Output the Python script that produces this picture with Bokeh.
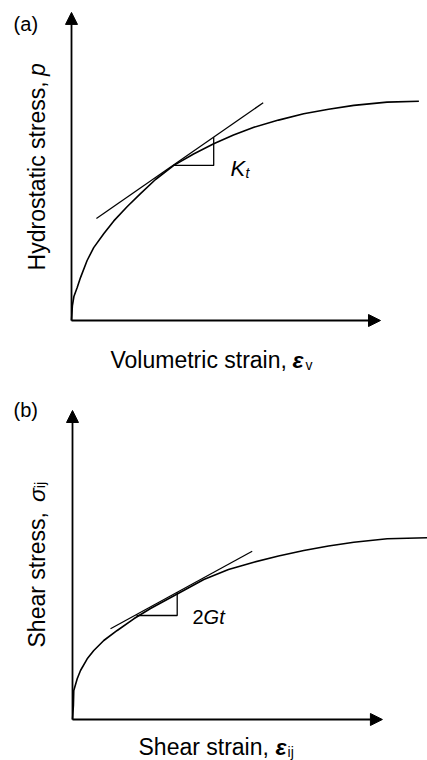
import math

from bokeh.plotting import figure
from bokeh.layouts import column
from bokeh.models import Arrow, NormalHead, Label
from bokeh.embed import file_html
from bokeh.resources import INLINE

# ---------------- data (arbitrary units) ----------------
# (a) hydrostatic stress vs volumetric strain
vol_strain = [0, 0.03, 0.08, 0.19, 0.3, 0.52, 0.74, 1.08, 1.41, 1.86, 2.3, 2.8,
              3.41, 4.07, 4.74, 5.4, 6.08, 6.9, 7.74, 8.57, 9.41, 10.52, 11.58]
hyd_stress = [0, 0.5, 0.8, 1.1, 1.43, 2.0, 2.43, 2.9, 3.32, 3.8, 4.23, 4.7,
              5.17, 5.55, 5.89, 6.18, 6.44, 6.68, 6.89, 7.04, 7.17, 7.28, 7.31]
tangent_a_x = [0.83, 6.39]
tangent_a_y = [3.40, 7.26]
triangle_a_x = [3.41, 4.74, 4.74]
triangle_a_y = [5.17, 5.17, 6.11]

# (b) shear stress vs shear strain
shear_strain = [0, 0.03, 0.043, 0.157, 0.267, 0.49, 0.71, 1.043, 1.49, 2.043, 2.6,
                3.49, 4.377, 5.2, 6.043, 6.867, 7.71, 8.533, 9.377, 10.49, 11.82]
shear_stress = [0, 0.467, 0.967, 1.357, 1.633, 2.023, 2.3, 2.633, 2.967, 3.357, 3.7,
                4.183, 4.667, 5.0, 5.243, 5.45, 5.633, 5.783, 5.91, 6.023, 6.057]
tangent_b_x = [1.267, 5.99]
tangent_b_y = [3.023, 5.61]
triangle_b_x = [2.133, 3.49, 3.49]
triangle_b_y = [3.467, 3.467, 4.24]

FONT = "Liberation Sans"
ROT = math.pi / 2


def make_fig(xr, yr):
    p = figure(width=427, height=380, x_range=xr, y_range=yr,
               x_axis_type=None, y_axis_type=None, title=None,
               output_backend="svg", toolbar_location=None, min_border=0)
    p.outline_line_color = None
    p.background_fill_color = "white"
    p.border_fill_color = "white"
    return p


def add_axes(p, xlen, ylen):
    for xe, ye in ((0, ylen), (xlen, 0)):
        p.add_layout(Arrow(x_start=0, y_start=0, x_end=xe, y_end=ye,
                           line_width=1.8, line_color="black",
                           end=NormalHead(size=12, fill_color="black",
                                          line_color="black", line_width=1)))


def lab(p, x, y, text, size, style="normal", angle=0.0, align="left"):
    p.add_layout(Label(x=x, y=y, text=text, text_font=FONT,
                       text_font_size=f"{size}px", text_font_style=style,
                       text_color="black", angle=angle, text_align=align,
                       text_baseline="alphabetic"))


# ---------------- panel (a) ----------------
pa = make_fig((-2.367, 11.867), (-2.0, 10.667))
add_axes(pa, 10.3, 10.27)
pa.line(vol_strain, hyd_stress, line_width=1.6, line_color="black")
pa.line(tangent_a_x, tangent_a_y, line_width=1.3, line_color="black")
pa.line(triangle_a_x, triangle_a_y, line_width=1.3, line_color="black")

lab(pa, -1.93, 9.87, "(a)", 20)
lab(pa, 5.3, 5.07, "K", 22, "italic")
lab(pa, 5.8, 4.93, "t", 14, "italic")
lab(pa, -1.143, 1.67, "Hydrostatic stress,", 23, angle=ROT)
lab(pa, -1.143, 8.15, "p", 23, "italic", angle=ROT)
lab(pa, 1.3, -1.333, "Volumetric strain,", 23)
lab(pa, 7.37, -1.333, "ε", 23, "bold italic")
lab(pa, 7.8, -1.467, "v", 14)

# ---------------- panel (b) ----------------
pb = make_fig((-2.4, 11.833), (-1.367, 11.3))
add_axes(pb, 10.33, 10.3)
pb.line(shear_strain, shear_stress, line_width=1.6, line_color="black")
pb.line(tangent_b_x, tangent_b_y, line_width=1.3, line_color="black")
pb.line(triangle_b_x, triangle_b_y, line_width=1.3, line_color="black")

lab(pb, -1.967, 10.33, "(b)", 20)
lab(pb, 4.0, 3.4, "2", 20)
lab(pb, 4.37, 3.4, "Gt", 20, "italic")
lab(pb, -1.167, 2.4, "Shear stress,", 23, angle=ROT)
lab(pb, -1.167, 7.25, "σ", 23, "italic", angle=ROT)
lab(pb, -1.067, 7.71, "ij", 14, angle=ROT)
lab(pb, 2.2, -0.933, "Shear strain,", 23)
lab(pb, 6.77, -0.933, "ε", 23, "bold italic")
lab(pb, 7.17, -1.067, "ij", 14)

layout = column(pa, pb, spacing=0)
open("out.html", "w").write(file_html(layout, INLINE))
